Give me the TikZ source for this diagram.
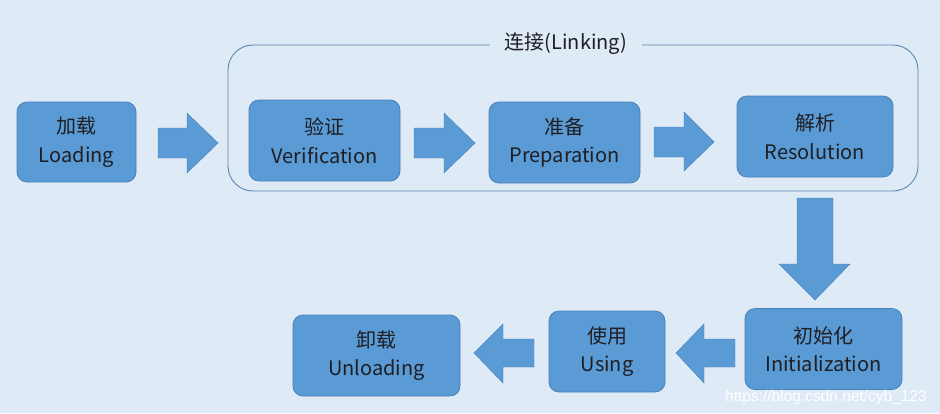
\documentclass[tikz,border=0pt]{standalone}
\usepackage{fontspec}
\setmainfont{Noto Sans CJK SC}
\newfontfamily\wmfont{Liberation Sans}
\definecolor{bg}{RGB}{222,234,246}
\definecolor{boxblue}{RGB}{91,155,213}
\definecolor{boxedge}{RGB}{72,128,184}
\definecolor{frameblue}{RGB}{92,134,180}
\definecolor{txt}{RGB}{30,30,35}
\begin{document}
\begin{tikzpicture}[x=1pt,y=-1pt,
  stagebox/.style={rounded corners=10pt, fill=boxblue, draw=boxedge, line width=0.8pt,
    text=txt, align=center, font=\fontsize{20}{28.5}\selectfont, inner sep=0pt},
  blockarrow/.style={fill=boxblue, draw=boxedge, line width=0.4pt}]
\fill[bg] (0,0) rectangle (940,413);
\useasboundingbox (0,0) rectangle (940,413);
% Linking container
\draw[frameblue, line width=0.9pt, rounded corners=25pt] (228,45) rectangle (918,191);
\node[fill=bg, inner xsep=15pt, inner ysep=2pt, text=txt, font=\fontsize{20}{24}\selectfont] (linklabel) at (566,44) {连接(Linking)};
% stage boxes
\node[stagebox, minimum width=119pt, minimum height=80pt] (load) at (76.5,142) {加载\\Loading};
\node[stagebox, minimum width=151pt, minimum height=81pt] (verif) at (324.5,140.5) {验证\\Verification};
\node[stagebox, minimum width=151pt, minimum height=81pt] (prep) at (564.5,142.5) {准备\\Preparation};
\node[stagebox, minimum width=156pt, minimum height=81pt] (resol) at (815,136.5) {解析\\Resolution};
\node[stagebox, minimum width=157pt, minimum height=81pt] (init) at (823.5,349) {初始化\\Initialization};
\node[stagebox, minimum width=116pt, minimum height=81pt] (using) at (607,351.5) {使用\\Using};
\node[stagebox, minimum width=167pt, minimum height=81pt] (unload) at (376.5,355.5) {卸载\\Unloading};
% block arrows
\draw[blockarrow] (158,128) -- (187,128) -- (187,113) -- (218,143) -- (187,173) -- (187,158) -- (158,158) -- cycle;
\draw[blockarrow] (414,128) -- (444,128) -- (444,113) -- (475,143) -- (444,173) -- (444,158) -- (414,158) -- cycle;
\draw[blockarrow] (654,127) -- (684,127) -- (684,112) -- (714,142) -- (684,171) -- (684,157) -- (654,157) -- cycle;
\draw[blockarrow] (797,198) -- (833,198) -- (833,264) -- (850,264) -- (815,300) -- (779,264) -- (797,264) -- cycle;
\draw[blockarrow] (735,339) -- (704,339) -- (704,324) -- (676,353) -- (704,383) -- (704,367) -- (735,367) -- cycle;
\draw[blockarrow] (534,339) -- (503,339) -- (503,324) -- (474,353) -- (503,383) -- (503,367) -- (534,367) -- cycle;
% watermark
\node[text=white, font=\wmfont\fontsize{15.5}{17}\selectfont, inner sep=0pt] (wm) at (826,397) {https://blog.csdn.net/cyb\_123};
\end{tikzpicture}
\end{document}
